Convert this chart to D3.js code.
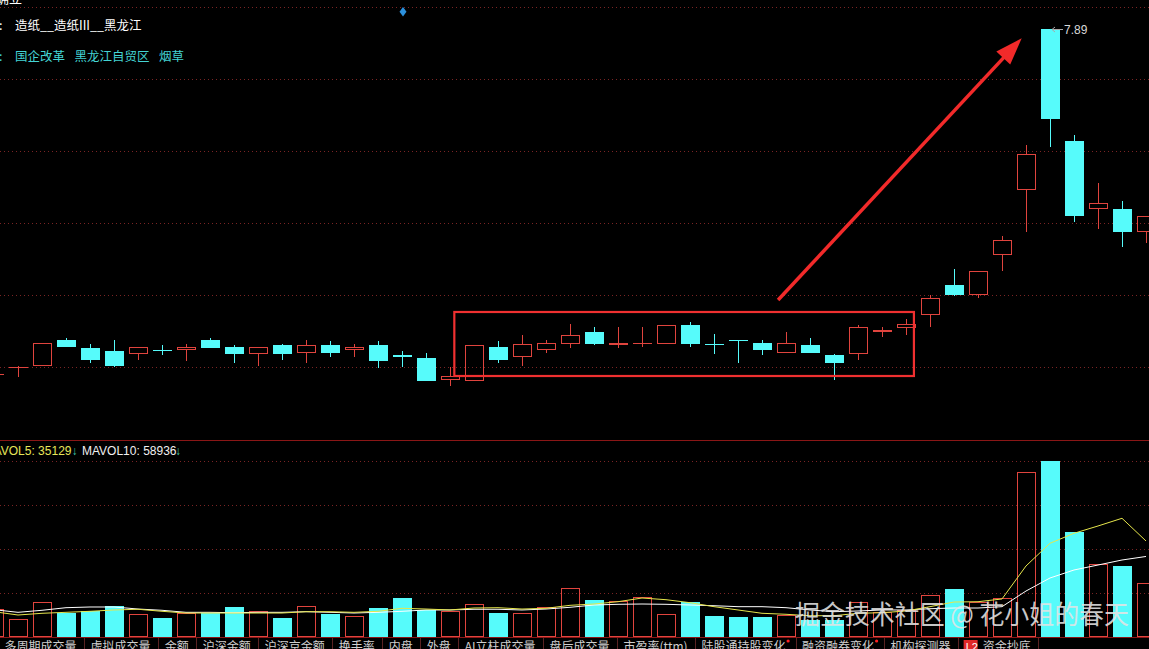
<!DOCTYPE html>
<html><head><meta charset="utf-8">
<script src="https://cdn.jsdelivr.net/npm/d3@7"></script>
<style>html,body{margin:0;padding:0;background:#000;overflow:hidden}</style>
</head><body><svg id="c" width="1149" height="649"></svg>
<script>
// ---- data (daily candles, left to right) ----
const opens  = [5.49,5.53,5.55,5.73,5.67,5.65,5.63,5.66,5.66,5.73,5.68,5.63,5.69,5.64,5.69,5.66,5.69,5.62,5.60,5.45,5.44,5.68,5.61,5.66,5.70,5.78,5.69,5.70,5.70,5.83,5.70,5.73,5.71,5.64,5.69,5.62,5.63,5.78,5.81,5.90,6.11,6.04,6.32,6.77,7.89,7.11,6.64,6.64,6.48];
const highs  = [5.50,5.55,5.71,5.74,5.70,5.73,5.68,5.69,5.70,5.74,5.69,5.68,5.70,5.73,5.72,5.70,5.72,5.65,5.64,5.54,5.69,5.72,5.76,5.73,5.84,5.82,5.82,5.82,5.83,5.85,5.77,5.73,5.73,5.78,5.74,5.63,5.83,5.82,5.87,6.04,6.22,6.21,6.45,7.08,7.89,7.15,6.82,6.69,6.59];
const lows   = [5.47,5.47,5.55,5.68,5.57,5.54,5.59,5.62,5.58,5.67,5.57,5.55,5.59,5.57,5.61,5.61,5.53,5.54,5.44,5.41,5.44,5.57,5.55,5.64,5.67,5.69,5.67,5.68,5.70,5.68,5.63,5.57,5.62,5.64,5.64,5.45,5.59,5.75,5.76,5.82,6.03,6.02,6.21,6.48,7.07,6.55,6.50,6.37,6.40];
const closes = [5.49,5.54,5.71,5.68,5.59,5.55,5.68,5.65,5.68,5.67,5.63,5.68,5.63,5.69,5.64,5.68,5.58,5.61,5.44,5.48,5.69,5.59,5.70,5.71,5.76,5.70,5.71,5.71,5.83,5.70,5.69,5.72,5.66,5.71,5.64,5.57,5.82,5.80,5.84,6.02,6.04,6.21,6.42,7.02,7.26,6.59,6.68,6.48,6.59];
const volumes = [63000,40000,79000,55000,59000,70000,52000,43000,55000,54000,68000,58000,43000,70000,53000,47000,66000,89000,61000,60000,74000,54000,55000,68000,111000,84000,81000,92000,52000,80000,48000,45000,45000,49000,39000,38000,79000,57000,61000,95000,109000,80000,88000,374000,400000,239000,167000,161000,122000];
const mavol5 = [57500,50000,53900,56100,58400,61400,63000,58400,54500,54500,54500,54500,54500,57500,57500,56100,58400,65200,63600,61400,65900,66600,63600,65200,72000,75000,80200,88600,84800,78000,68900,61400,53900,51600,48400,48400,53900,55200,59100,68900,79500,80200,86400,161400,213000,235700,252300,269800,218200];
const mavol10 = [62000,56100,60700,66600,68200,68200,63600,60700,56100,56100,55200,56100,56100,57500,56100,54500,56100,58400,61400,61400,63000,63000,61400,63600,67500,72700,74300,75000,74300,72700,71100,68900,68900,66600,61400,57500,59100,61400,61400,64300,65900,65900,68900,104500,134100,152300,163600,175000,183000];
const priceGridTicks = [8.04,7.54,7.04,6.54,6.04,5.54];
const volGridTicks = [100000,200000,300000,400000];
const industryText = "造纸__造纸III__黑龙江";
const conceptTags = ["国企改革","黑龙江自贸区","烟草"];
const mavolLabels = ["MAVOL5: 35129","MAVOL10: 58936"];
const tabLabels = ["多周期成交量","虚拟成交量","金额","沪深金额","沪深京金额","换手率","内盘","外盘","AI立柱成交量","盘后成交量","市盈率(ttm)","陆股通持股变化","融资融券变化","机构探测器","资金抄底"];
const tabDots = ["陆股通持股变化","融资融券变化"];
const watermark = "掘金技术社区 @ 花小姐的春天";
// annotation (in data space: candle index, price)
const boxRange = {i0:19.18, i1:38.33, p0:5.4775, p1:5.922};
const arrowFrom = {i:32.67, p:6.005}, arrowTo = {i:42.82, p:7.823};

// ---- drawing ----
const W=1149, H=649;
const RED='#e0443e', CYAN='#56fbfb', GRID='#7a2424';
const svg = d3.select('#c');
svg.append('rect').attr('width',W).attr('height',H).attr('fill','#000');
const defs = svg.append('defs');
defs.append('clipPath').attr('id','clipP').append('rect').attr('x',0).attr('y',0).attr('width',W).attr('height',439);
defs.append('clipPath').attr('id','clipV').append('rect').attr('x',0).attr('y',441).attr('width',W).attr('height',196);

const n = opens.length;
const x = d3.scaleLinear().domain([0,n-1]).range([-6,1146]);
const yP = d3.scaleLinear().domain([5.04,8.04]).range([439,7]);
const yV = d3.scaleLinear().domain([0,400000]).range([637,461]);

// grid lines
svg.append('g').selectAll('line').data(priceGridTicks).join('line')
  .attr('x1',0).attr('x2',W).attr('y1',d=>Math.round(yP(d))+0.5).attr('y2',d=>Math.round(yP(d))+0.5)
  .attr('stroke',GRID).attr('stroke-dasharray','1,3');
svg.append('g').selectAll('line').data(volGridTicks).join('line')
  .attr('x1',0).attr('x2',W).attr('y1',d=>Math.round(yV(d))+0.5).attr('y2',d=>Math.round(yV(d))+0.5)
  .attr('stroke',GRID).attr('stroke-dasharray','1,3');
// panel divider
svg.append('line').attr('x1',0).attr('x2',W).attr('y1',440.5).attr('y2',440.5).attr('stroke','#8a1616').attr('stroke-width',1);

// candles
const gc = svg.append('g').attr('clip-path','url(#clipP)');
d3.range(n).forEach(i=>{
  const up = closes[i] >= opens[i];
  const col = up ? RED : CYAN;
  const cx = Math.round(x(i));
  const t = Math.round(yP(Math.max(opens[i],closes[i])));
  const b = Math.round(yP(Math.min(opens[i],closes[i])));
  const hy = Math.round(yP(highs[i])), ly = Math.round(yP(lows[i]));
  if (hy < t) gc.append('line').attr('x1',cx+0.5).attr('x2',cx+0.5).attr('y1',hy).attr('y2',t).attr('stroke',col);
  if (ly > b) gc.append('line').attr('x1',cx+0.5).attr('x2',cx+0.5).attr('y1',b).attr('y2',ly).attr('stroke',col);
  if (b - t < 2) {
    gc.append('rect').attr('x',cx-9).attr('y',t).attr('width',19).attr('height',Math.max(1,b-t)).attr('fill',col);
  } else if (up) {
    gc.append('rect').attr('x',cx-8.5).attr('y',t+0.5).attr('width',18).attr('height',b-t-1)
      .attr('fill','none').attr('stroke',col);
  } else {
    gc.append('rect').attr('x',cx-9).attr('y',t).attr('width',19).attr('height',b-t).attr('fill',col);
  }
});

// highest price marker
const hiIdx = d3.maxIndex(highs);
const hx = Math.round(x(hiIdx)), hyy = Math.round(yP(highs[hiIdx]))+0.5;
svg.append('path').attr('d',`M${hx+2},${hyy}L${hx+13},${hyy}M${hx+2},${hyy}L${hx+5},${hyy-2.5}M${hx+2},${hyy}L${hx+5},${hyy+2.5}`)
  .attr('stroke','#a8a8a8').attr('fill','none');
svg.append('text').attr('x',hx+14).attr('y',hyy+4).attr('font-family','Liberation Sans, Arial, sans-serif')
  .attr('font-size',12).attr('fill','#d8d8d8').text(d3.format('.2f')(highs[hiIdx]));

// annotation box
const bx0 = x(boxRange.i0), bx1 = x(boxRange.i1), by0 = yP(boxRange.p1), by1 = yP(boxRange.p0);
svg.append('rect').attr('x',bx0).attr('y',by0).attr('width',bx1-bx0).attr('height',by1-by0)
  .attr('fill','none').attr('stroke','#f03030').attr('stroke-width',2.2);
// annotation arrow
const ax0=x(arrowFrom.i), ay0=yP(arrowFrom.p), ax1=x(arrowTo.i), ay1=yP(arrowTo.p);
const len = Math.hypot(ax1-ax0, ay1-ay0), ux=(ax1-ax0)/len, uy=(ay1-ay0)/len;
const hl=27, hw=9.5;
const bxm = ax1-ux*hl, bym = ay1-uy*hl;
svg.append('line').attr('x1',ax0).attr('y1',ay0).attr('x2',bxm+ux*3).attr('y2',bym+uy*3)
  .attr('stroke','#f22a2a').attr('stroke-width',3.5);
svg.append('path').attr('d',`M${ax1},${ay1}L${bxm-uy*hw},${bym+ux*hw}L${bxm+uy*hw},${bym-ux*hw}Z`).attr('fill','#f22a2a');

// volume bars
const gv = svg.append('g').attr('clip-path','url(#clipV)');
d3.range(n).forEach(i=>{
  const up = closes[i] >= opens[i];
  const cx = Math.round(x(i));
  const t = Math.round(yV(volumes[i])), b = Math.round(yV(0));
  if (up) gv.append('rect').attr('x',cx-8.5).attr('y',t+0.5).attr('width',18).attr('height',b-t-1).attr('fill','none').attr('stroke',RED);
  else gv.append('rect').attr('x',cx-9).attr('y',t).attr('width',19).attr('height',b-t).attr('fill',CYAN);
});
const line = d3.line().x((d,i)=>x(i)).y(d=>yV(d));
gv.append('path').datum(mavol10).attr('d',line).attr('fill','none').attr('stroke','#ffffff').attr('stroke-width',1);
gv.append('path').datum(mavol5).attr('d',line).attr('fill','none').attr('stroke','#e6e64c').attr('stroke-width',1);

// volume labels
const lf = 'Liberation Sans, Arial, sans-serif';
svg.append('text').attr('x',71.5).attr('y',455).attr('text-anchor','end').attr('font-family',lf).attr('font-size',12).attr('fill','#e6e65a').text(mavolLabels[0]);
svg.append('text').attr('x',71.5).attr('y',455).attr('font-family',lf).attr('font-size',12).attr('fill','#3cc8a8').text('↓');
svg.append('text').attr('x',82).attr('y',455).attr('font-family',lf).attr('font-size',12).attr('fill','#f0f0f0').text(mavolLabels[1]);
svg.append('text').attr('x',175).attr('y',455).attr('font-family',lf).attr('font-size',12).attr('fill','#3cc8a8').text('↓');

// top texts
const cf = '"Noto Sans CJK SC", sans-serif';
svg.append('line').attr('x1',0).attr('x2',W).attr('y1',7.5).attr('y2',7.5).attr('stroke',GRID).attr('stroke-dasharray','1,3');
svg.append('text').attr('x',-4).attr('y',3).attr('font-family',cf).attr('font-size',13).attr('fill','#fff').text('确立');
svg.append('text').attr('x',-1).attr('y',30).attr('font-family',cf).attr('font-size',12.5).attr('fill','#fff').text(':');
svg.append('text').attr('x',15).attr('y',30).attr('font-family',cf).attr('font-size',12.5).attr('fill','#fff').text(industryText);
svg.append('text').attr('x',-1).attr('y',61).attr('font-family',cf).attr('font-size',12.5).attr('fill','#44d4d4').text(':');
let tx = 15;
conceptTags.forEach(s=>{
  const t = svg.append('text').attr('x',tx).attr('y',61).attr('font-family',cf).attr('font-size',12.5).attr('fill','#44d4d4').text(s);
  tx += t.node().getComputedTextLength() + 9.5;
});
svg.append('path').attr('d','M403,7L406.5,11.7L403,16.4L399.5,11.7Z').attr('fill','#2c90dc');

// watermark
svg.append('text').attr('x',795).attr('y',624).attr('font-family',cf).attr('font-size',26)
  .attr('textLength',334).attr('lengthAdjust','spacingAndGlyphs')
  .attr('fill','#e4e4e4').attr('fill-opacity',0.88).text(watermark);

// bottom tabs
svg.append('line').attr('x1',0).attr('x2',W).attr('y1',637.5).attr('y2',637.5).attr('stroke','#8a1616');
let px = -1.8;
tabLabels.forEach((s,k)=>{
  let start = px + 6.4;
  if (s === '资金抄底') {
    svg.append('rect').attr('x',start-1).attr('y',640).attr('width',14).attr('height',10).attr('fill','#e02828');
    svg.append('text').attr('x',start+1).attr('y',651).attr('font-family',lf).attr('font-size',11).attr('fill','#fff').text('L2');
    start += 18;
  }
  const t = svg.append('text').attr('x',start).attr('y',651).attr('font-family',cf).attr('font-size',12).attr('fill','#cfcfcf').text(s);
  let end = start + t.node().getComputedTextLength();
  if (tabDots.includes(s)) {
    svg.append('circle').attr('cx',end+2.5).attr('cy',641).attr('r',1.6).attr('fill','#ff2020');
    end += 2.5;
  }
  px = end + 7.6;
  svg.append('line').attr('x1',Math.round(px)+0.5).attr('x2',Math.round(px)+0.5).attr('y1',638).attr('y2',649).attr('stroke','#5a2222');
});
</script>
</body></html>
